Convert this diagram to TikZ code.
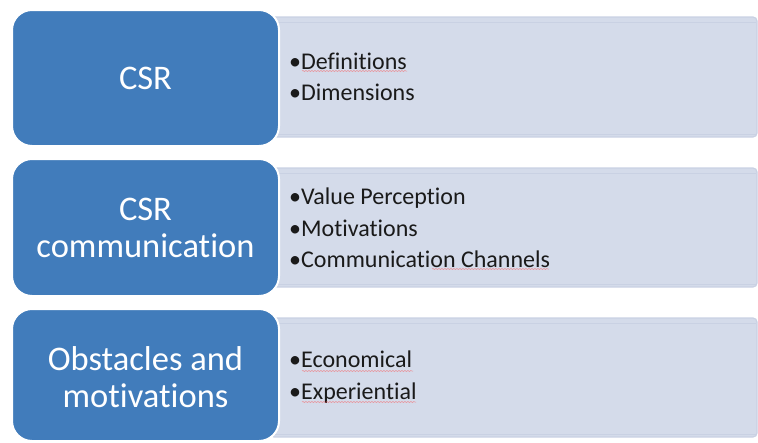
\documentclass[tikz,border=0pt]{standalone}
\usepackage{fontspec}
\setmainfont{Carlito}[Ligatures=NoCommon]
\usetikzlibrary{decorations.pathmorphing}
\definecolor{bluebox}{HTML}{417CBB}
\definecolor{lightfill}{HTML}{D4DBEA}
\definecolor{lightedge}{HTML}{C9D1E3}
\definecolor{textdark}{HTML}{1A1A1A}
\tikzset{
  headbox/.style={fill=bluebox, draw=white, line width=2pt, rounded corners=20pt},
  listbox/.style={fill=lightfill, draw=lightedge, line width=1.2pt, rounded corners=4pt},
  headtext/.style={text=white, align=center, font=\fontsize{34.5}{37.5}\selectfont, inner sep=0pt},
  listtext/.style={text=textdark, align=left, anchor=west, font=\fontsize{24}{31.3}\selectfont, inner sep=0pt},
  squig/.style={draw=red!70!white, opacity=0.55, line width=0.5pt, decorate, decoration={snake, amplitude=0.5pt, segment length=3pt}},
}
\begin{document}
\begin{tikzpicture}[x=1pt, y=-1pt]
\useasboundingbox (0,0) rectangle (758,442);
% light list boxes
\foreach \t/\b/\n in {17/137/l1, 168/287/l2, 318/437/l3}{
  \draw[listbox] (270,\t) rectangle (757,\b);
  \draw[lightedge, line width=0.5pt] (270,\t+5.5) -- (756,\t+5.5);
  \draw[lightedge, line width=0.5pt] (270,\b-3) -- (756,\b-3);
}
% blue heading boxes
\draw[headbox] (12,10) rectangle (279,146);
\draw[headbox] (12,159) rectangle (279,296);
\draw[headbox] (12,309) rectangle (279,441);
\node[headtext] (h1) at (145.5,78) {CSR};
\node[headtext] (h2) at (145.5,228) {CSR\\communication};
\node[headtext] (h3) at (145.5,377) {Obstacles and\\motivations};
% lists
\node[listtext] (t1) at (289,77) {•Definitions\\•Dimensions};
\node[listtext] (t2) at (289,228) {•Value Perception\\•Motivations\\•Communication Channels};
\node[listtext] (t3) at (289,377) {•Economical\\•Experiential};
% spell-check squiggles
\draw[squig] (302,71) -- (407,71);
\draw[squig] (432,269) -- (549,269);
\draw[squig] (302,371) -- (413,371);
\draw[squig] (302,402) -- (416,402);
\end{tikzpicture}
\end{document}
